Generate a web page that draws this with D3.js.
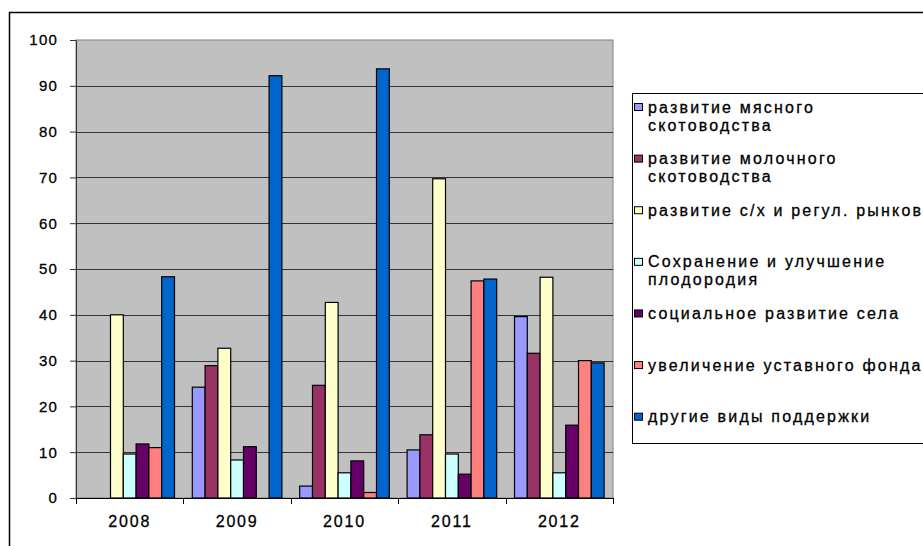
<!DOCTYPE html>
<html>
<head>
<meta charset="utf-8">
<script src="https://cdn.jsdelivr.net/npm/d3@7"></script>
<style>
  body { margin: 0; background: #fff; }
  text { font-family: "Liberation Sans", Arial, sans-serif; fill: #000; stroke: #000; stroke-width: 0.3px; }
</style>
</head>
<body>
<script>
const years = ["2008", "2009", "2010", "2011", "2012"];
const seriesKeys = ["meat", "dairy", "agri", "soil", "social", "fund", "other"];
const seriesLabels = [
  ["развитие мясного", "скотоводства"],
  ["развитие молочного", "скотоводства"],
  ["развитие с/х и регул. рынков"],
  ["Сохранение и улучшение", "плодородия"],
  ["социальное развитие села"],
  ["увеличение уставного фонда"],
  ["другие виды поддержки"]
];
const seriesColors = ["#9999ff", "#993366", "#ffffcc", "#ccffff", "#660066", "#ff8080", "#0066cc"];

const meat = [0, 24.2, 2.6, 10.5, 39.6];
const dairy = [0, 28.9, 24.6, 13.8, 31.6];
const agri = [40.0, 32.7, 42.7, 69.7, 48.2];
const soil = [9.6, 8.3, 5.5, 9.6, 5.5];
const social = [11.8, 11.2, 8.1, 5.2, 15.9];
const fund = [11.0, 0, 1.2, 47.4, 30.0];
const other = [48.3, 92.2, 93.7, 47.8, 29.5];
const seriesValues = [meat, dairy, agri, soil, social, fund, other];

const yTicks = [0, 10, 20, 30, 40, 50, 60, 70, 80, 90, 100];

const width = 923;
const height = 546;
const plotLeft = 76;
const plotRight = 613;
const plotTop = 40;
const plotBottom = 498;
const groupPad = 8.9;

const svg = d3.select("body")
  .append("svg")
  .attr("width", width)
  .attr("height", height);

// outer chart frame (runs off the picture at right and bottom)
svg.append("rect")
  .attr("x", 9.5).attr("y", 12.5)
  .attr("width", 1000).attr("height", 600)
  .attr("fill", "none")
  .attr("stroke", "#000")
  .attr("stroke-width", 1.5);

const x0 = d3.scaleBand()
  .domain(years)
  .range([plotLeft, plotRight]);

const x1 = d3.scaleBand()
  .domain(seriesKeys)
  .range([groupPad, x0.bandwidth() - groupPad]);

const y = d3.scaleLinear()
  .domain([0, 100])
  .range([plotBottom, plotTop]);

// plot area
svg.append("rect")
  .attr("x", plotLeft).attr("y", plotTop)
  .attr("width", plotRight - plotLeft).attr("height", plotBottom - plotTop)
  .attr("fill", "#c0c0c0")
  .attr("stroke", "#808080")
  .attr("stroke-width", 1);

// gridlines
svg.append("g")
  .selectAll("line")
  .data(yTicks.filter(d => d > 0 && d < 100))
  .enter()
  .append("line")
  .attr("x1", plotLeft).attr("x2", plotRight)
  .attr("y1", d => Math.round(y(d)) + 0.5)
  .attr("y2", d => Math.round(y(d)) + 0.5)
  .attr("stroke", "#333")
  .attr("stroke-width", 1);

// bars
const rows = [];
years.forEach(function(yr, i) {
  seriesKeys.forEach(function(k, j) {
    rows.push({ year: yr, key: k, value: seriesValues[j][i], color: seriesColors[j] });
  });
});

svg.append("g")
  .selectAll("rect")
  .data(rows.filter(d => d.value > 0))
  .enter()
  .append("rect")
  .attr("x", d => x0(d.year) + x1(d.key))
  .attr("y", d => y(d.value))
  .attr("width", x1.bandwidth())
  .attr("height", d => y(0) - y(d.value))
  .attr("fill", d => d.color)
  .attr("stroke", "#000")
  .attr("stroke-width", 1.2);

// y axis
const yAxis = d3.axisLeft(y)
  .tickValues(yTicks)
  .tickSize(6)
  .tickPadding(12)
  .tickSizeOuter(0);

const gy = svg.append("g")
  .attr("transform", `translate(${plotLeft}, 0)`)
  .call(yAxis);
gy.select(".domain").attr("stroke", "#333");
gy.selectAll("line").attr("stroke", "#333");
gy.selectAll("text")
  .style("font-size", "15px")
  .style("letter-spacing", "1.2px")
  .attr("fill", "#000");

// x axis
const gx = svg.append("g")
  .attr("transform", `translate(0, ${plotBottom})`);
gx.append("line")
  .attr("x1", plotLeft).attr("x2", plotRight)
  .attr("y1", 0.5).attr("y2", 0.5)
  .attr("stroke", "#000");
gx.selectAll("line.bound")
  .data(years.map(d => x0(d)).concat([plotRight]))
  .enter()
  .append("line")
  .attr("class", "bound")
  .attr("x1", d => Math.round(d) + 0.5).attr("x2", d => Math.round(d) + 0.5)
  .attr("y1", 0).attr("y2", 6)
  .attr("stroke", "#000");
gx.selectAll("text")
  .data(years)
  .enter()
  .append("text")
  .attr("x", d => x0(d) + x0.bandwidth() / 2)
  .attr("y", 28.5)
  .attr("text-anchor", "middle")
  .style("font-size", "16px")
  .style("letter-spacing", "1.8px")
  .text(d => d);

// legend
const legend = svg.append("g");
legend.append("rect")
  .attr("x", 632.5).attr("y", 93.5)
  .attr("width", 400).attr("height", 350)
  .attr("fill", "#fff")
  .attr("stroke", "#000")
  .attr("stroke-width", 1);

const ly = d3.scalePoint()
  .domain(seriesKeys)
  .range([107, 416.7]);

const items = legend.selectAll("g.item")
  .data(seriesKeys)
  .enter()
  .append("g")
  .attr("class", "item")
  .attr("transform", d => `translate(0, ${ly(d)})`);

items.append("rect")
  .attr("x", 634.5).attr("y", -3.5)
  .attr("width", 8).attr("height", 7)
  .attr("fill", (d, i) => seriesColors[i])
  .attr("stroke", "#000")
  .attr("stroke-width", 1);

items.each(function(d, i) {
  const g = d3.select(this);
  seriesLabels[i].forEach(function(line, k) {
    g.append("text")
      .attr("x", 648)
      .attr("y", k * 18)
      .attr("dy", "0.35em")
      .style("font-size", "16px")
      .style("letter-spacing", "2.2px")
      .text(line);
  });
});
</script>
</body>
</html>
